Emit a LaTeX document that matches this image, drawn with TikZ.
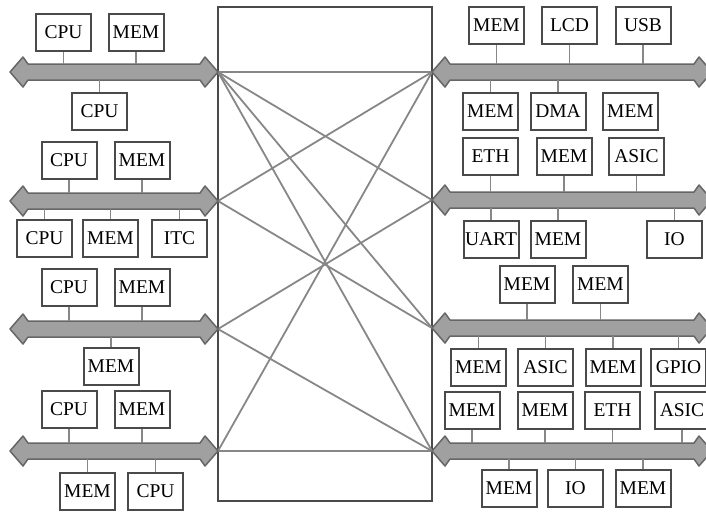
\documentclass[tikz,border=0pt]{standalone}
\usepackage{fontspec}
\setmainfont{Liberation Serif}
\usetikzlibrary{calc}
\definecolor{boxgray}{HTML}{4A4A4A}
\definecolor{linegray}{HTML}{878787}
\definecolor{busfill}{HTML}{A0A0A0}
\definecolor{busedge}{HTML}{666666}

% double-headed bus arrow: name, left tip x, right tip x, y
\newcommand{\dbus}[4]{%
  \coordinate (#1w) at (#2,#4);
  \coordinate (#1e) at (#3,#4);
  \filldraw[busstyle] (#1w) -- ({#2+13},{#4-15}) -- ({#2+18},{#4-8})
    -- ({#3-18},{#4-8}) -- ({#3-13},{#4-15}) -- (#1e)
    -- ({#3-13},{#4+15}) -- ({#3-18},{#4+8})
    -- ({#2+18},{#4+8}) -- ({#2+13},{#4+15}) -- cycle;
}
% module attached above a bus / below a bus (stub ends at the bus edge)
\newcommand{\upmod}[4]{%
  \node[modbox] (#1) at (#2) {#3};
  \draw[stub] (#1.south) -- ($(#1.south |- #4)+(0,-8)$);
}
\newcommand{\downmod}[4]{%
  \node[modbox] (#1) at (#2) {#3};
  \draw[stub] (#1.north) -- ($(#1.north |- #4)+(0,8)$);
}

\begin{document}
\begin{tikzpicture}[x=1pt,y=-1pt,
  modbox/.style={draw=boxgray, line width=2pt, fill=white,
    minimum width=55pt, minimum height=37pt, inner sep=0pt,
    font=\fontsize{19.5}{19.5}\selectfont},
  stub/.style={draw=linegray, line width=1.5pt},
  busstyle/.style={fill=busfill, draw=busedge, line width=1.5pt, line join=round},
  xline/.style={draw=linegray, line width=1.8pt},
  xbarbox/.style={draw=boxgray, line width=2pt, minimum width=214pt,
    minimum height=494pt, inner sep=0pt}]
\useasboundingbox (0,0) rectangle (706,512);

% crossbar frame
\node[xbarbox] (xbar) at (325,254) {};

% bus end points on the crossbar
\coordinate (L1) at (218,72);
\coordinate (L2) at (218,201);
\coordinate (L3) at (218,329);
\coordinate (L4) at (218,451);
\coordinate (R1) at (432,72);
\coordinate (R2) at (432,200);
\coordinate (R3) at (432,328);
\coordinate (R4) at (432,451);

% crossbar connections
\draw[xline] (L1) -- (R1);
\draw[xline] (L1) -- (R2);
\draw[xline] (L1) -- (R3);
\draw[xline] (L1) -- (R4);
\draw[xline] (L2) -- (R1);
\draw[xline] (L2) -- (R3);
\draw[xline] (L3) -- (R2);
\draw[xline] (L3) -- (R4);
\draw[xline] (L4) -- (R1);
\draw[xline] (L4) -- (R4);

% left buses
\dbus{la}{10}{218}{72}
\dbus{lb}{10}{218}{201}
\dbus{lc}{10}{218}{329}
\dbus{ld}{10}{218}{451}
% right buses
\dbus{ra}{432}{712}{72}
\dbus{rb}{432}{712}{200}
\dbus{rc}{432}{712}{328}
\dbus{rd}{432}{712}{451}

% left bus 1
\upmod{a1}{63.5,32.5}{CPU}{law}
\upmod{a2}{136,32.5}{MEM}{law}
\downmod{a3}{99.5,111}{CPU}{law}
% left bus 2
\upmod{b1}{69,160}{CPU}{lbw}
\upmod{b2}{142,160}{MEM}{lbw}
\downmod{b3}{44.5,238.5}{CPU}{lbw}
\downmod{b4}{110.5,238.5}{MEM}{lbw}
\downmod{b5}{179.5,238.5}{ITC}{lbw}
% left bus 3
\upmod{c1}{69,287.5}{CPU}{lcw}
\upmod{c2}{142,287.5}{MEM}{lcw}
\downmod{c3}{111,366.5}{MEM}{lcw}
% left bus 4
\upmod{d1}{69,409.5}{CPU}{ldw}
\upmod{d2}{142,409.5}{MEM}{ldw}
\downmod{d3}{87.5,491.5}{MEM}{ldw}
\downmod{d4}{155.5,491.5}{CPU}{ldw}

% right bus 1
\upmod{e1}{496.5,25.5}{MEM}{raw}
\upmod{e2}{569.5,25.5}{LCD}{raw}
\upmod{e3}{643,25.5}{USB}{raw}
\downmod{e4}{490.5,111}{MEM}{raw}
\downmod{e5}{558,111}{DMA}{raw}
\node[modbox] (e6) at (630.5,111) {MEM};
% right bus 2
\upmod{f1}{490.5,156.5}{ETH}{rbw}
\upmod{f2}{564,156.5}{MEM}{rbw}
\upmod{f3}{636.5,156.5}{ASIC}{rbw}
\downmod{f4}{491,239}{UART}{rbw}
\downmod{f5}{558,239}{MEM}{rbw}
\downmod{f6}{674.5,239}{IO}{rbw}
% right bus 3
\upmod{g1}{527,284}{MEM}{rcw}
\upmod{g2}{600.5,284}{MEM}{rcw}
\downmod{g3}{478.5,367}{MEM}{rcw}
\downmod{g4}{545.5,367}{ASIC}{rcw}
\downmod{g5}{613,367}{MEM}{rcw}
\downmod{g6}{678.5,367}{GPIO}{rcw}
% right bus 4
\upmod{h1}{472,410.5}{MEM}{rdw}
\upmod{h2}{545,410.5}{MEM}{rdw}
\upmod{h3}{612.5,410.5}{ETH}{rdw}
\upmod{h4}{682,410.5}{ASIC}{rdw}
\downmod{h5}{509,488.5}{MEM}{rdw}
\downmod{h6}{575.5,488.5}{IO}{rdw}
\downmod{h7}{643,488.5}{MEM}{rdw}
\end{tikzpicture}
\end{document}
